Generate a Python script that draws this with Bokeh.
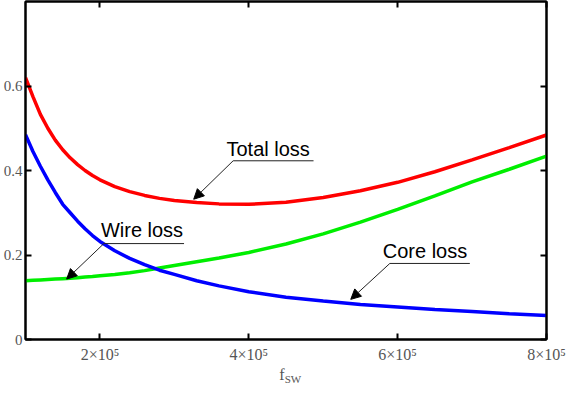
from bokeh.plotting import figure
from bokeh.models import (LinearAxis, FixedTicker, Arrow, NormalHead, Label, Range1d)
from bokeh.embed import file_html
from bokeh.resources import INLINE

# ---- data ----
fsw = [100000, 110000, 120000, 130000, 140000, 150000, 160000, 170000, 180000,
       190000, 200000, 220000, 240000, 260000, 280000, 300000, 330000, 360000,
       400000, 450000, 500000, 550000, 600000, 650000, 700000, 750000, 800000]
core_loss = [0.485, 0.445, 0.410, 0.378, 0.348, 0.320, 0.300, 0.280, 0.262,
             0.246, 0.232, 0.210, 0.192, 0.177, 0.164, 0.154, 0.139, 0.127,
             0.113, 0.100, 0.091, 0.083, 0.077, 0.071, 0.066, 0.061, 0.057]
wire_loss = [0.139, 0.140, 0.141, 0.142, 0.143, 0.144, 0.145, 0.146, 0.148,
             0.149, 0.151, 0.154, 0.158, 0.163, 0.169, 0.175, 0.184, 0.193,
             0.206, 0.226, 0.250, 0.278, 0.308, 0.340, 0.373, 0.403, 0.434]
total_loss = [0.620, 0.575, 0.533, 0.500, 0.472, 0.449, 0.430, 0.414, 0.400,
              0.388, 0.378, 0.362, 0.350, 0.341, 0.334, 0.329, 0.324, 0.321,
              0.320, 0.325, 0.336, 0.352, 0.372, 0.397, 0.425, 0.454, 0.484]

x_ticks = [200000, 400000, 600000, 800000]
x_tick_labels = ["2×10⁵", "4×10⁵", "6×10⁵", "8×10⁵"]
y_ticks = [0, 0.2, 0.4, 0.6]
y_tick_labels = ["0", "0.2", "0.4", "0.6"]
x_label_main = "f"
x_label_sub = "SW"

# annotation layout: (label, text_x, text_y, leader_x0, leader_x1, leader_y, tip_x, tip_y)
notes = [
    ("Total loss", 370000, 0.451, 379000, 487000, 0.423, 326000, 0.332),
    ("Wire loss", 201300, 0.258, 205300, 313000, 0.227, 155300, 0.143),
    ("Core loss", 580000, 0.210, 589500, 697000, 0.180, 537000, 0.095),
]

p = figure(width=566, height=387, output_backend="svg", toolbar_location=None,
           x_range=Range1d(100000, 800000), y_range=Range1d(0, 0.8),
           min_border_left=20, min_border_right=20, min_border_top=1,
           min_border_bottom=30)
p.background_fill_color = "white"
p.border_fill_color = "white"
p.outline_line_color = "black"
p.outline_line_width = 2
p.grid.visible = False

p.line(fsw, total_loss, line_color="#ff0000", line_width=3.5)
p.line(fsw, wire_loss, line_color="#00ee00", line_width=3.5)
p.line(fsw, core_loss, line_color="#0000ff", line_width=3.5)

tick_font = "Liberation Serif"
tick_color = "#555555"

def style_axis(ax, show_labels):
    ax.major_tick_in = 6
    ax.major_tick_out = 0
    ax.minor_tick_in = 0
    ax.minor_tick_out = 0
    ax.axis_line_color = "black"
    ax.axis_line_width = 2
    ax.major_tick_line_color = "black"
    ax.major_tick_line_width = 2
    ax.major_label_text_font = tick_font
    ax.major_label_text_color = tick_color
    ax.major_label_text_font_size = "15px"
    if not show_labels:
        ax.major_label_text_alpha = 0
        ax.major_label_text_font_size = "1px"
        ax.major_label_standoff = 0

xa = p.xaxis[0]
xa.ticker = FixedTicker(ticks=x_ticks)
xa.major_label_overrides = {t: l for t, l in zip(x_ticks, x_tick_labels)}
xa.major_label_standoff = 6
style_axis(xa, True)
xa.major_label_text_font_size = "16px"
xa.axis_label = x_label_main + "\u00a0\u00a0"
xa.axis_label_text_font = tick_font
xa.axis_label_text_font_size = "16px"
xa.axis_label_text_font_style = "normal"
xa.axis_label_text_color = tick_color
xa.axis_label_standoff = 0

# second (invisible) bottom axis carrying the subscript of the x label
sub = LinearAxis(ticker=FixedTicker(ticks=[]))
sub.axis_line_color = None
sub.major_tick_line_color = None
sub.minor_tick_line_color = None
sub.major_tick_in = 0
sub.major_tick_out = 0
sub.minor_tick_in = 0
sub.minor_tick_out = 0
sub.major_label_text_font_size = "1px"
sub.major_label_standoff = 0
sub.axis_label = "\u00a0" * 5 + x_label_sub
sub.axis_label_text_font = tick_font
sub.axis_label_text_font_size = "11px"
sub.axis_label_text_font_style = "normal"
sub.axis_label_text_color = tick_color
sub.axis_label_standoff = -13
p.add_layout(sub, "below")

ya = p.yaxis[0]
ya.ticker = FixedTicker(ticks=y_ticks)
ya.major_label_overrides = {t: l for t, l in zip(y_ticks, y_tick_labels)}
ya.major_label_standoff = 3
style_axis(ya, True)

top = LinearAxis(ticker=FixedTicker(ticks=x_ticks))
style_axis(top, False)
p.add_layout(top, "above")
right = LinearAxis(ticker=FixedTicker(ticks=y_ticks))
style_axis(right, False)
p.add_layout(right, "right")

for (txt, tx, ty, lx0, lx1, ly, ax_, ay_) in notes:
    p.add_layout(Label(x=tx, y=ty, text=txt, text_font="Liberation Sans",
                       text_font_size="20px", text_color="black",
                       text_baseline="alphabetic"))
    p.segment(x0=[lx0], y0=[ly], x1=[lx1], y1=[ly], line_color="#222222", line_width=1)
    p.add_layout(Arrow(x_start=lx0, y_start=ly, x_end=ax_, y_end=ay_,
                       line_color="#222222", line_width=1,
                       end=NormalHead(size=10, fill_color="black", line_color="black")))

open("out.html", "w").write(file_html(p, INLINE))
